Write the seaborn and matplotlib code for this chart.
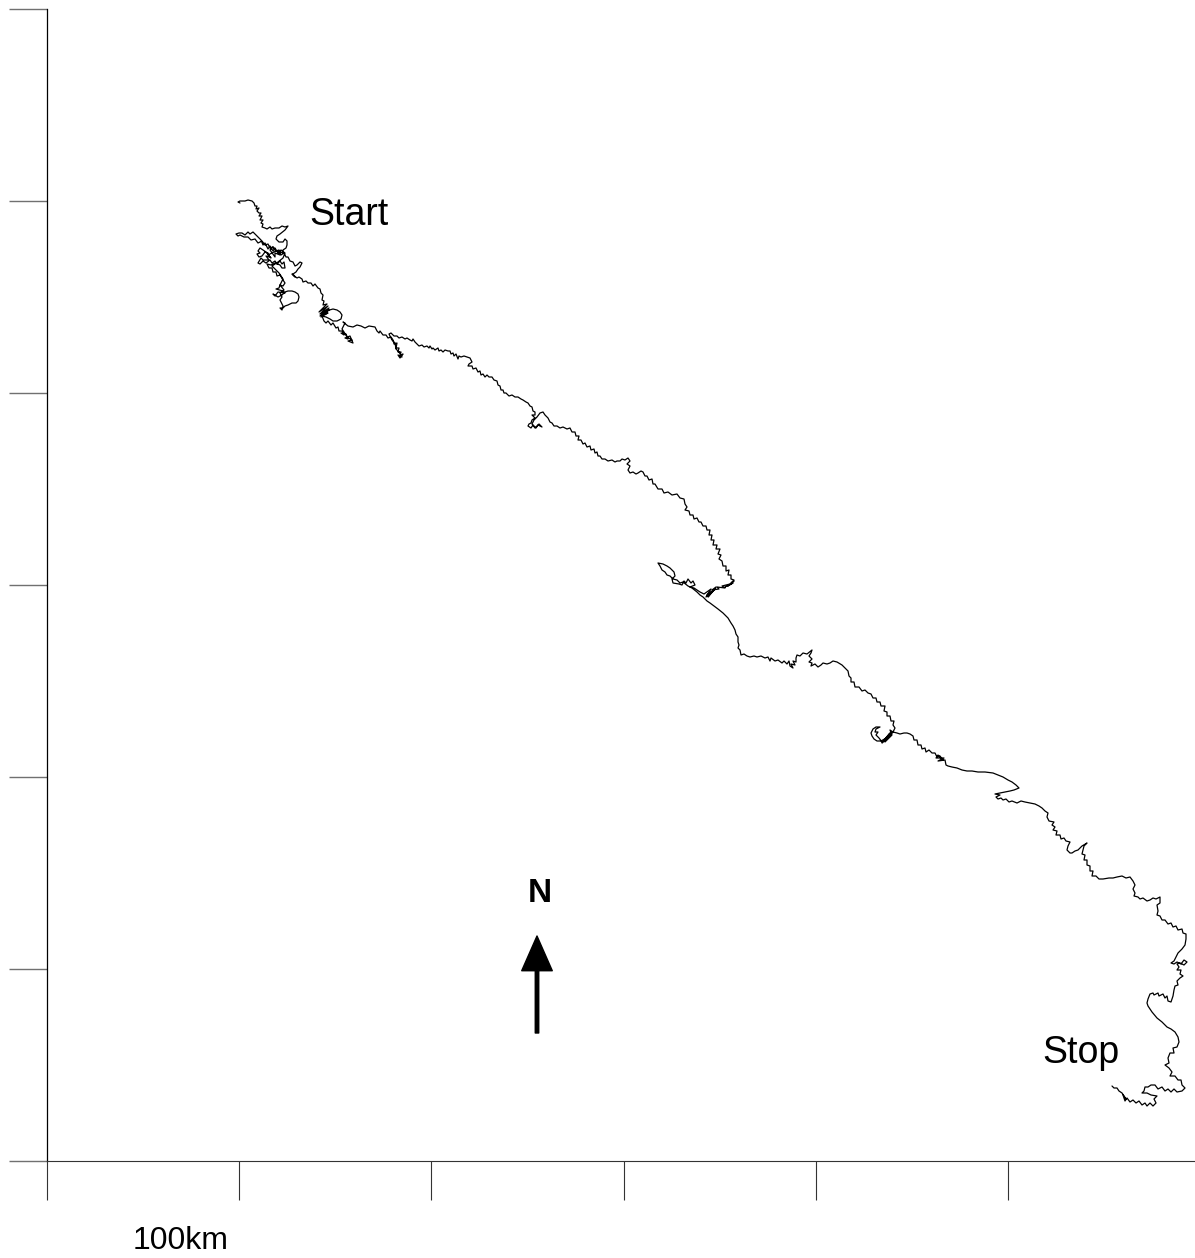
import matplotlib
matplotlib.use('Agg')
import matplotlib.pyplot as plt
import pandas as pd
import seaborn as sns

sns.set_theme(style='white')
plt.rcParams['font.family'] = ['Liberation Sans', 'DejaVu Sans']

# track, grid units east / north of the origin (192 units = 100km)
leg1 = [(193,958),(191,959),(193,960),(198,960),(201,961),(205,960),(207,958),(208,955),(210,955),(209,952),(212,953),
        (210,950),(212,948),(214,948),(212,945),(215,945),(213,941),(216,941),(214,938),(216,937),(215,934),(218,933),
        (220,932),(223,934),(225,932),(228,933),(232,933),(235,935),(238,934),(241,935),(238,931),(233,927),(230,925),
        (229,922),(232,919),(236,919),(238,922),(240,920),(240,916),(239,913),(236,911),(236,908),(231,910),(233,906),
        (228,908),(228,904),(223,911),(226,914),(229,910),(221,906),(224,903),(219,909),(216,911),(213,913),(211,910),
        (213,908),(210,907),(212,904),(215,905),(218,909),(221,908),(222,904),(219,905),(222,901),(216,901),(214,903),
        (211,898),(213,897),(216,900),(219,898),(223,901),(225,898),(228,900),(230,897),(233,900),(235,897),(237,899),
        (238,893),(235,893),(233,896),(228,898),(224,896),(220,897),(222,893),(225,893),(226,889),(229,889),(230,885),
        (233,886),(236,881),(238,878),(236,875),(233,876),(232,873),(229,872),(236,870),(238,868),(231,869),(228,865),
        (226,867),(231,864),(235,866),(238,869),(241,870),(245,870),(248,869),(251,867),(252,864),(251,860),(249,858),
        (245,858),(241,856),(238,855),(236,853),(233,853),(235,851),(236,855),(233,861),(235,864),(233,868),(237,871),
        (233,876),(236,882),(232,888),(228,892),(225,895),(231,899),(236,903),(238,908),(234,911),(231,908),(228,913),
        (226,910),(223,915),(221,912),(218,918),(216,916),(214,921),(212,923),(209,926),(206,929),(203,927),(201,929),
        (198,926),(195,928),(192,928),(189,927),(191,925),(193,926),(197,924),(201,924),(204,921),(208,922),(211,918),
        (215,920),(218,916),(221,917),(223,913),(226,914),(229,910),(232,911),(234,906),(237,908),(239,904),(241,904),
        (243,900),(246,899),(248,895),(250,896),(253,899),(255,898),(253,894),(251,892),(249,889),(246,887),(248,884),
        (245,887),(250,883),(252,884),(255,882),(256,879),(259,880),(261,878),(264,878),(266,875),(268,877),(271,873),
        (273,872),(274,868),(276,866),(275,861),(277,860),(276,856),(280,857),(272,849),(281,855),(273,847),(282,853),
        (273,845),(282,851),(274,844),(281,848),(275,846),(279,850),(286,852),(290,851),(293,849),(295,846),(294,842),
        (290,840),(286,840),(283,842),(279,844),(275,845),(277,840),(279,838),(281,840),(284,836),(286,838),(289,833),
        (291,834),(292,830),(295,830),(297,826),(294,828),(299,827),(301,822),(298,823),(303,825),(306,818),(301,820),
        (305,821),(300,824),(297,829),(295,832),(298,838),(296,839),(301,835),(306,834),(310,836),(314,835),(318,833),
        (322,835),(328,834),(330,830),(332,828),(333,830),(336,826),(339,826),(341,823),(344,824),(346,821),(347,817),
        (350,818),(349,813),(352,813),(351,809),(354,809),(353,805),(356,807),(353,803),(351,806),(355,804),(352,809),
        (349,812),(348,818),(345,821),(342,827),(344,828),(347,825),(350,825),(352,823),(355,824),(358,822),(360,823),
        (363,821),(365,820),(366,822),(368,819),(370,817),(372,815)]
leg2 = [(375,816),(377,814),(380,815),(382,813),(383,815),(385,812),(386,813),(388,811),(391,813),(392,810),(394,811),
        (396,809),(398,811),(401,810),(403,810),(404,807),(406,808),(407,805),(409,807),(411,802),(412,805),(414,804),
        (417,805),(420,804),(423,803),(425,799),(422,797),(421,795),(425,795),(426,792),(429,793),(431,789),(433,790),
        (434,786),(436,787),(438,784),(440,786),(442,784),(445,784),(447,781),(450,780),(451,776),(453,775),(454,771),
        (456,771),(457,768),(459,768),(462,765),(465,766),(468,764),(471,764),(474,762),(476,761),(479,759),(481,758),
        (483,755),(485,754),(486,750),(488,749),(488,746),(485,746),(488,743),(485,741),(484,738),(482,737),(481,735),
        (484,733),(486,736),(489,733),(491,736),(495,734),(492,737),(488,733),(485,737),(487,741),(490,744),(493,748),
        (496,749),(498,746),(501,743),(503,739),(505,738),(507,735),(510,735),(513,733),(516,734),(520,732),(523,733),
        (525,729),(528,729),(529,725),(532,725),(531,721),(534,721),(536,717),(538,718),(540,714),(543,715),(544,711),
        (547,712),(548,708),(550,709),(551,705),(553,705),(555,702),(558,702),(561,700),(565,701),(568,699),(570,700),
        (573,700),(575,702),(578,701),(581,703),(583,700),(580,697),(583,695),(581,691),(583,688),(586,689),(589,687),
        (591,688),(594,690),(596,689),(598,685),(600,685),(602,681),(605,682),(606,677),(608,677),(611,672),(615,672),
        (617,668),(621,669),(625,666),(630,667),(633,663),(637,662),(638,657),(640,654),(638,651),(642,650),(643,646),
        (646,646),(647,642),(650,643),(652,639),(654,639),(656,635),(659,635),(660,631),(663,631),(662,626),(665,626),
        (664,621),(667,621),(666,616),(670,616),(669,612),(673,612),(671,607),(674,606),(672,602),(675,600),(676,595),
        (679,595),(679,590),(682,591),(681,586),(684,586),(684,582),(687,581),(684,578),(687,580),(681,575),(686,578),
        (678,574),(683,577),(675,575),(678,573),(670,574),(672,572),(665,571),(669,574),(661,564),(668,572),(660,566),
        (667,571),(659,564),(664,572),(657,567),(653,569),(650,571),(647,573),(643,574),(648,576),(646,580),(644,578),
        (641,582),(639,578),(637,580),(635,576),(632,577),(626,578),(625,582),(628,585),(627,589),(623,593),(620,595),
        (616,597),(611,598),(613,595),(615,591),(618,589),(620,586),(623,585),(626,582),(630,581),(633,578),(636,579),
        (641,575),(645,573),(650,569),(653,566),(656,564),(660,560),(663,558),(667,555),(671,552)]
leg3 = [(676,548),(678,546),(681,543),(684,538),(686,535),(688,531),(689,527),(691,524),(691,519),(692,516),(691,513),
        (693,511),(694,506),(697,507),(700,505),(703,504),(707,505),(710,504),(714,505),(718,503),(721,504),(723,500),
        (724,503),(728,500),(731,501),(735,498),(737,500),(740,497),(742,500),(743,495),(746,493),(744,497),(748,496),
        (746,500),(749,499),(749,503),(750,506),(753,505),(756,508),(760,507),(765,511),(764,508),(762,505),(765,502),
        (762,499),(765,498),(764,495),(768,497),(771,494),(774,496),(776,498),(780,497),(783,498),(786,500),(790,499),
        (795,496),(798,493),(801,490),(802,485),(804,483),(804,479),(807,479),(808,474),(812,474),(815,470),(818,471),
        (821,468),(824,467),(826,463),(829,463),(830,459),(833,459),(834,455),(838,455),(837,450),(840,449),(840,445),
        (843,445),(844,440),(847,440),(846,436),(848,433),(846,429),(843,431),(845,426),(838,419),(845,429),(837,421),
        (843,428),(835,418),(841,424),(834,420),(830,420),(827,422),(825,425),(824,428),(826,432),(829,434),(833,434),
        (829,432),(828,429),(831,429),(829,426),(832,423),(835,419),(840,422),(846,429),(850,428),(853,427),(857,428),
        (860,428),(863,427),(866,425),(867,421),(870,421),(871,416),(874,416),(875,412),(878,413),(879,409),(882,411),
        (885,408),(888,408),(890,404),(893,405),(896,401),(891,406),(889,403),(897,403),(891,400),(898,401),(899,396),
        (901,395),(905,394),(910,393),(915,391),(920,390),(925,390),(931,389),(938,389),(946,388),(951,386),(956,384),
        (961,381),(965,379),(969,376),(972,373)]
leg4 = [(967,371),(963,370),(958,369),(953,368),(948,367),(953,366),(949,364),(951,362),(954,363),(956,361),(959,362),
        (962,359),(965,360),(970,358),(974,360),(978,359),(983,358),(988,357),(992,355),(995,353),(998,350),(1001,348),
        (1000,344),(1002,340),(1007,339),(1005,336),(1008,334),(1006,331),(1010,330),(1009,326),(1013,326),(1014,322),
        (1017,323),(1019,320),(1023,319),(1021,315),(1020,311),(1023,308),(1025,308),(1028,310),(1031,311),(1035,315),
        (1040,318),(1037,315),(1036,311),(1035,307),(1038,306),(1037,301),(1040,301),(1040,296),(1043,295),(1043,290),
        (1046,290),(1045,285),(1049,285),(1052,282),(1056,282),(1062,283),(1066,283),(1070,284),(1075,285),(1079,283),
        (1083,284),(1086,280),(1088,276),(1086,272),(1088,268),(1087,265),(1091,264),(1093,262),(1096,263),(1100,260),
        (1103,261),(1106,263),(1109,262),(1113,264),(1113,258),(1110,256),(1111,250),(1110,246),(1113,245),(1115,241),
        (1118,241),(1121,237),(1124,238),(1126,234),(1129,235),(1131,231),(1135,232),(1136,228),(1139,227),(1139,222),
        (1138,216),(1135,212),(1131,208),(1129,204),(1127,200),(1124,198),(1127,197),(1130,199),(1134,197),(1137,201),
        (1140,199),(1137,196),(1133,198),(1130,197),(1132,194),(1130,191),(1134,191),(1133,187),(1136,185),(1133,183),
        (1130,180),(1131,176),(1128,175),(1127,171),(1126,165),(1124,159),(1121,160),(1120,165),(1118,163),(1116,167),
        (1112,165),(1111,168),(1107,166),(1106,168),(1103,167),(1101,162),(1100,158),(1101,155),(1105,149),(1110,143),
        (1115,139),(1120,134),(1124,132),(1128,129),(1131,124),(1132,119),(1130,114),(1126,113),(1127,108),(1123,108),
        (1121,103),(1122,98),(1118,96),(1122,93),(1125,89),(1123,85),(1128,85),(1131,81),(1134,81),(1135,76),(1138,73),
        (1135,70),(1130,69),(1127,72),(1124,69),(1121,72),(1118,70),(1115,74),(1111,72),(1108,76),(1104,76),(1101,74),
        (1098,74),(1097,70),(1095,68),(1100,68),(1104,66),(1110,65),(1107,62),(1109,58),(1106,55),(1103,58),(1100,55),
        (1098,58),(1095,56),(1092,60),(1089,58),(1086,61),(1083,59),(1080,63),(1078,60),(1076,66),(1079,62),(1075,68),
        (1072,70),(1070,73),(1067,73),(1065,75)]

x_ticks = [0, 192, 384, 577, 769, 961]
y_ticks = [0, 192, 384, 576, 768, 960, 1152]

track = pd.DataFrame(leg1 + leg2 + leg3 + leg4, columns=['east', 'north'])

fig = plt.figure(figsize=(11.95, 12.58), dpi=100)
ax = fig.add_axes([47/1195, 1-1161/1258, 1148/1195, 1152/1258])

sns.lineplot(data=track, x='east', y='north', sort=False, estimator=None, color='black', lw=0.9, ax=ax)

ax.set_xlim(0, 1148)
ax.set_ylim(0, 1152)
ax.set_xticks(x_ticks)
ax.set_yticks(y_ticks)
ax.set_xticklabels([])
ax.set_yticklabels([])
ax.set_xlabel('')
ax.set_ylabel('')
ax.tick_params(axis='x', direction='out', length=28, width=0.8, color='#333333', bottom=True)
ax.tick_params(axis='y', direction='out', length=27.5, width=1.0, color='#707070', left=True)
sns.despine(ax=ax)
ax.spines['left'].set_color('black')
ax.spines['left'].set_linewidth(0.9)
ax.spines['bottom'].set_color('#333333')
ax.spines['bottom'].set_linewidth(0.8)

ax.text(262, 946, 'Start', fontsize=27, color='black', va='center', ha='left')
ax.text(995, 108, 'Stop', fontsize=27, color='black', va='center', ha='left')
ax.text(134, -80, '100km', fontsize=23, color='black', va='center', ha='center', clip_on=False)
ax.text(493, 267, 'N', fontsize=24, color='black', fontweight='bold', va='center', ha='center')
ax.annotate('', xy=(490, 225), xytext=(490, 128),
            arrowprops=dict(width=2.5, headwidth=22, headlength=25, color='black', shrink=0))

fig.savefig('out.png', dpi=100)
